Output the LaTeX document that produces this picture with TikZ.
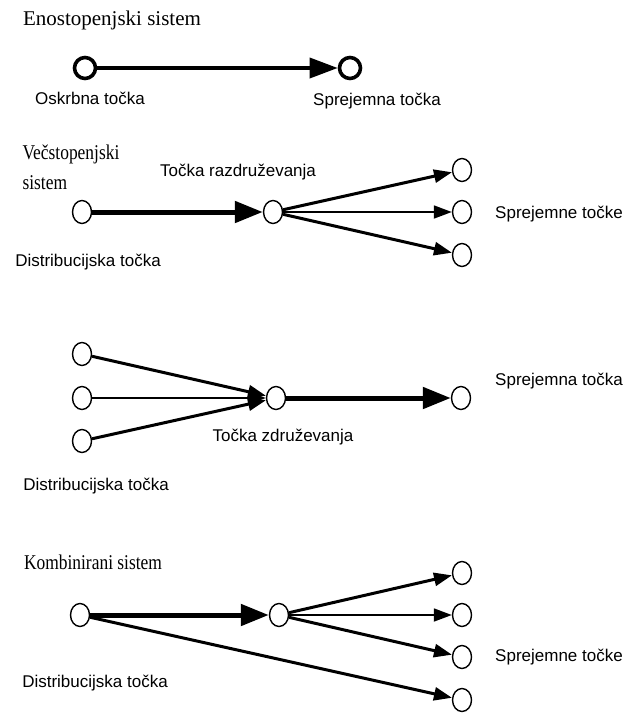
\documentclass[tikz,border=0pt]{standalone}
\usepackage{fontspec}
\setmainfont{Liberation Serif}
\setsansfont{Liberation Sans}
\usetikzlibrary{arrows.meta,shapes.geometric}
\newcommand{\narrowtxt}[1]{\scalebox{0.83}[1]{#1}}
\begin{document}
\begin{tikzpicture}[
      x=1pt, y=-1pt,
      pt/.style={draw, ellipse, line width=1.4pt, minimum width=19pt,
                 minimum height=23pt, inner sep=0pt},
      bigpt/.style={draw, circle, line width=3.6pt, minimum size=21pt, inner sep=0pt},
      title/.style={font=\fontsize{21}{30}\selectfont, align=left},
      lbl/.style={font=\sffamily\fontsize{17}{20}\selectfont},
      main/.style={line width=5pt, -{Triangle[length=28pt,width=21pt]}},
      branch/.style={line width=3pt, -{Triangle[length=18pt,width=13pt]}},
      thin/.style={line width=1.8pt, -{Triangle[length=18pt,width=13pt]}}
    ]
      \useasboundingbox (0,0) rectangle (629,713);
      % Enostopenjski sistem
      \node[title] (t1) at (112,20) {Enostopenjski sistem};
      \node[bigpt] (s1) at (85,68) {};
      \node[bigpt] (r1) at (350,68) {};
      \draw[line width=3.6pt, -{Triangle[length=28pt,width=20pt]}] (s1) -- (r1);
      \node[lbl] (ls1) at (90,98) {Oskrbna točka};
      \node[lbl] (lr1) at (377,101) {Sprejemna točka};
      % Vecstopenjski sistem (razdruzevanje)
      \node[title, anchor=north west] (t2) at (19,141)
        {\narrowtxt{Večstopenjski}\\\narrowtxt{sistem}};
      \node[pt] (s2) at (82,212) {};
      \node[pt] (m2) at (273,212) {};
      \draw[main] (s2) -- (m2);
      \foreach \k/\y/\st in {1/170/branch, 2/212/thin, 3/255/branch} {
        \node[pt] (r2\k) at (462,\y) {};
        \draw[\st] (m2) -- (r2\k);
      }
      \node[lbl] (lm2) at (238,172) {Točka razdruževanja};
      \node[lbl] (lr2) at (559,214) {Sprejemne točke};
      \node[lbl] (ls2) at (88,262) {Distribucijska točka};
      % zdruzevanje
      \node[pt] (m3) at (276,398) {};
      \foreach \k/\y/\st in {1/354/branch, 2/398/thin, 3/441/branch} {
        \node[pt] (s3\k) at (82,\y) {};
        \draw[\st] (s3\k) -- (m3);
      }
      \node[pt] (r3) at (461,398) {};
      \draw[main] (m3) -- (r3);
      \node[lbl] (lr3) at (559,381) {Sprejemna točka};
      \node[lbl] (lm3) at (283,437) {Točka združevanja};
      \node[lbl] (ls3) at (96,486) {Distribucijska točka};
      % Kombinirani sistem
      \node[title] (t4) at (93,562) {\narrowtxt{Kombinirani sistem}};
      \node[pt] (s4) at (80,615) {};
      \node[pt] (m4) at (279,615) {};
      \draw[main] (s4) -- (m4);
      \foreach \k/\y/\st in {1/573/branch, 2/615/thin, 3/657/branch} {
        \node[pt] (r4\k) at (462,\y) {};
        \draw[\st] (m4) -- (r4\k);
      }
      \node[pt] (r44) at (462,700) {};
      \draw[branch] (s4) -- (r44);
      \node[lbl] (lr4) at (559,657) {Sprejemne točke};
      \node[lbl] (ls4) at (95,683) {Distribucijska točka};
\end{tikzpicture}
\end{document}
